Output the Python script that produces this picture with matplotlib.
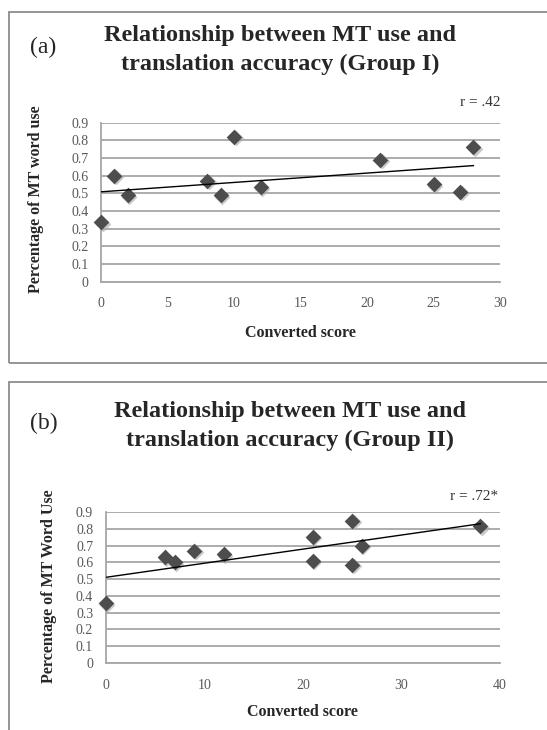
import numpy as np
import matplotlib
matplotlib.use('Agg')
import matplotlib.pyplot as plt
from matplotlib.patches import Rectangle
from matplotlib.transforms import ScaledTranslation

plt.rcParams['font.family'] = ['Liberation Serif', 'DejaVu Serif']

# Group I
score_a = [0, 1, 2, 8, 9, 10, 12, 21, 25, 27, 28]
mt_use_a = [0.335, 0.60, 0.49, 0.57, 0.49, 0.82, 0.535, 0.69, 0.55, 0.51, 0.76]
# Group II
score_b = [0, 6, 7, 9, 12, 21, 21, 25, 25, 26, 38]
mt_use_b = [0.355, 0.63, 0.60, 0.67, 0.65, 0.755, 0.61, 0.85, 0.585, 0.70, 0.815]

yticks = [0, 0.1, 0.2, 0.3, 0.4, 0.5, 0.6, 0.7, 0.8, 0.9]
ytick_labels = ['0', '0.1', '0.2', '0.3', '0.4', '0.5', '0.6', '0.7', '0.8', '0.9']

W, H = 547, 730
fig = plt.figure(figsize=(W / 100, H / 100), dpi=100)
fig.patch.set_facecolor('white')

def px(x, y):
    return x / W, 1 - y / H

# panel frames
for top, bottom in [(12, 362.7), (381.7, 760)]:
    fig.patches.append(Rectangle(px(9, bottom), (560 - 9) / W, (bottom - top) / H,
                                 transform=fig.transFigure, fill=False,
                                 edgecolor='#8c8c8c', linewidth=1.3))

def panel(rect, xs, ys, xmax, xstep, title, letter, title_pos, letter_pos,
          rtext, r_pos, ylabel, xlab_y, ylab_x, ylab_yc, xpad, ypad):
    ax = fig.add_axes(rect)
    shadow = ax.transData + ScaledTranslation(1.5 / 100, -1.5 / 100, fig.dpi_scale_trans)
    ax.scatter(xs, ys, marker='D', s=64, color='#a8a8a8', zorder=2,
               linewidths=0, alpha=0.6, transform=shadow, clip_on=False)
    ax.scatter(xs, ys, marker='D', s=64, color='#4d4d4d', zorder=3,
               linewidths=0, clip_on=False)
    k, b = np.polyfit(xs, ys, 1)
    xl = np.array([0, max(xs)])
    ax.plot(xl, k * xl + b, color='black', linewidth=1.0, zorder=4)
    ax.set_xlim(0, xmax)
    ax.set_ylim(0, 0.9)
    ax.set_xticks(np.arange(0, xmax + 1, xstep))
    ax.set_yticks(yticks)
    ax.set_yticklabels(ytick_labels)
    ax.grid(axis='y', color='#a6a6a6', linewidth=1.3)
    ax.set_axisbelow(True)
    for s in ['top', 'right']:
        ax.spines[s].set_visible(False)
    for s in ['left', 'bottom']:
        ax.spines[s].set_color('#a6a6a6')
        ax.spines[s].set_linewidth(1.3)
    ax.tick_params(length=0, labelsize=10, labelcolor='#595959')
    ax.tick_params(axis='x', pad=xpad)
    ax.tick_params(axis='y', pad=ypad)
    ax.set_xlabel('Converted score', fontsize=11.5, fontweight='bold', va='center',
                  color='#262626')
    ax.xaxis.set_label_coords(0.5, xlab_y)
    ax.set_ylabel(ylabel, fontsize=11.5, fontweight='bold', va='center',
                  color='#262626')
    ax.yaxis.set_label_coords(ylab_x, ylab_yc)
    for (tx, ty), line in zip(title_pos, title):
        fig.text(*px(tx, ty), line, fontsize=17.5, fontweight='bold',
                 ha='center', va='center', color='#262626')
    fig.text(*px(*letter_pos), letter, fontsize=17, ha='center', va='center',
             color='#262626')
    fig.text(*px(*r_pos), rtext, fontsize=11, ha='right', va='center',
             color='#333333')
    return ax

# (a): axes 101..500 px wide, y 122.7..281.5
panel([101 / W, 1 - 281.5 / H, 399 / W, 158.8 / H], score_a, mt_use_a, 30, 5,
      ['Relationship between MT use and', 'translation accuracy (Group I)'], '(a)',
      [(280, 36), (280, 64)], (43, 47), 'r = .42', (501, 103),
      'Percentage of MT word use', -0.322, -0.162, 0.52, 11.5, 9)

# (b): axes 105.7..500 px wide, y 512.3..662.6
panel([105.7 / W, 1 - 662.6 / H, 394.3 / W, 150.3 / H], score_b, mt_use_b, 40, 10,
      ['Relationship between MT use and', 'translation accuracy (Group II)'], '(b)',
      [(290, 412), (290, 440)], (44, 423), 'r = .72*', (498, 497),
      'Percentage of MT Word Use', -0.33, -0.144, 0.51, 11.5, 9)

fig.savefig('out.png', dpi=100)
